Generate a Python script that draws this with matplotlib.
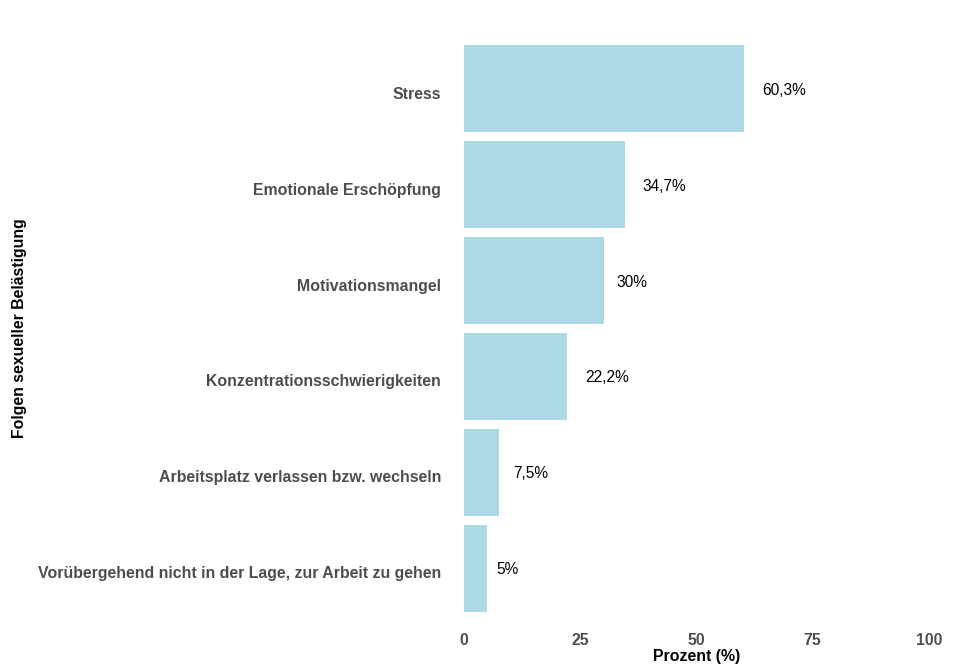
import matplotlib
matplotlib.use("Agg")
import matplotlib.pyplot as plt
import matplotlib.transforms as mtransforms

# === DATA ===
categories = [
    "Stress",
    "Emotionale Erschöpfung",
    "Motivationsmangel",
    "Konzentrationsschwierigkeiten",
    "Arbeitsplatz verlassen bzw. wechseln",
    "Vorübergehend nicht in der Lage, zur Arbeit zu gehen",
]
values = [60.3, 34.7, 30.0, 22.2, 7.5, 5.0]
value_labels = ["60,3%", "34,7%", "30%", "22,2%", "7,5%", "5%"]
x_ticks = [0, 25, 50, 75, 100]

plt.rcParams["font.family"] = ["Liberation Sans", "DejaVu Sans"]

fig = plt.figure(figsize=(9.6, 6.72), dpi=100)
# axes placed in pixels: x from 441 to 952, y from 31 to 626 (top-down)
ax = fig.add_axes([441 / 960, 1 - 626 / 672, (952 - 441) / 960, (626 - 31) / 672])

pos = list(range(len(categories)))[::-1]
ax.barh(pos, values, height=0.9, color="#ADD8E6")

ax.set_xlim(-5, 105)
ax.set_ylim(-0.6, len(categories) - 0.4)
ax.set_yticks(pos)
ax.set_yticklabels(categories, fontsize=11.4, fontweight="bold", color="#4D4D4D")
ax.set_xticks(x_ticks)
ax.set_xticklabels([str(t) for t in x_ticks], fontsize=11.4, fontweight="bold", color="#4D4D4D")
ax.tick_params(length=0, axis="y", pad=0)
ax.tick_params(length=0, axis="x", pad=5)
for s in ax.spines.values():
    s.set_visible(False)

# category labels sit a little below the bar centre in the original
shift = mtransforms.ScaledTranslation(0, -4 / 100, fig.dpi_scale_trans)
for lab in ax.get_yticklabels():
    lab.set_transform(lab.get_transform() + shift)

ax.set_xlabel("Prozent (%)", fontsize=11.4, fontweight="bold", color="black", labelpad=1)
fig.text(20 / 960, 1 - 328 / 672, "Folgen sexueller Belästigung", rotation=90,
         ha="center", va="center", fontsize=11.4, fontweight="bold", color="black")

# value labels, shifted like ggplot hjust=-0.4
renderer = fig.canvas.get_renderer()
px_per_unit = 511 / 110
down = mtransforms.ScaledTranslation(0, -1.5 / 100, fig.dpi_scale_trans)
for p, v, lab in zip(pos, values, value_labels):
    t = ax.text(v, p, lab, ha="left", va="center", fontsize=11.2, color="black",
                transform=ax.transData + down)
    w = t.get_window_extent(renderer).width
    t.set_position((v + 0.4 * w / px_per_unit, p))

fig.savefig("out.png", dpi=100, facecolor="white")
